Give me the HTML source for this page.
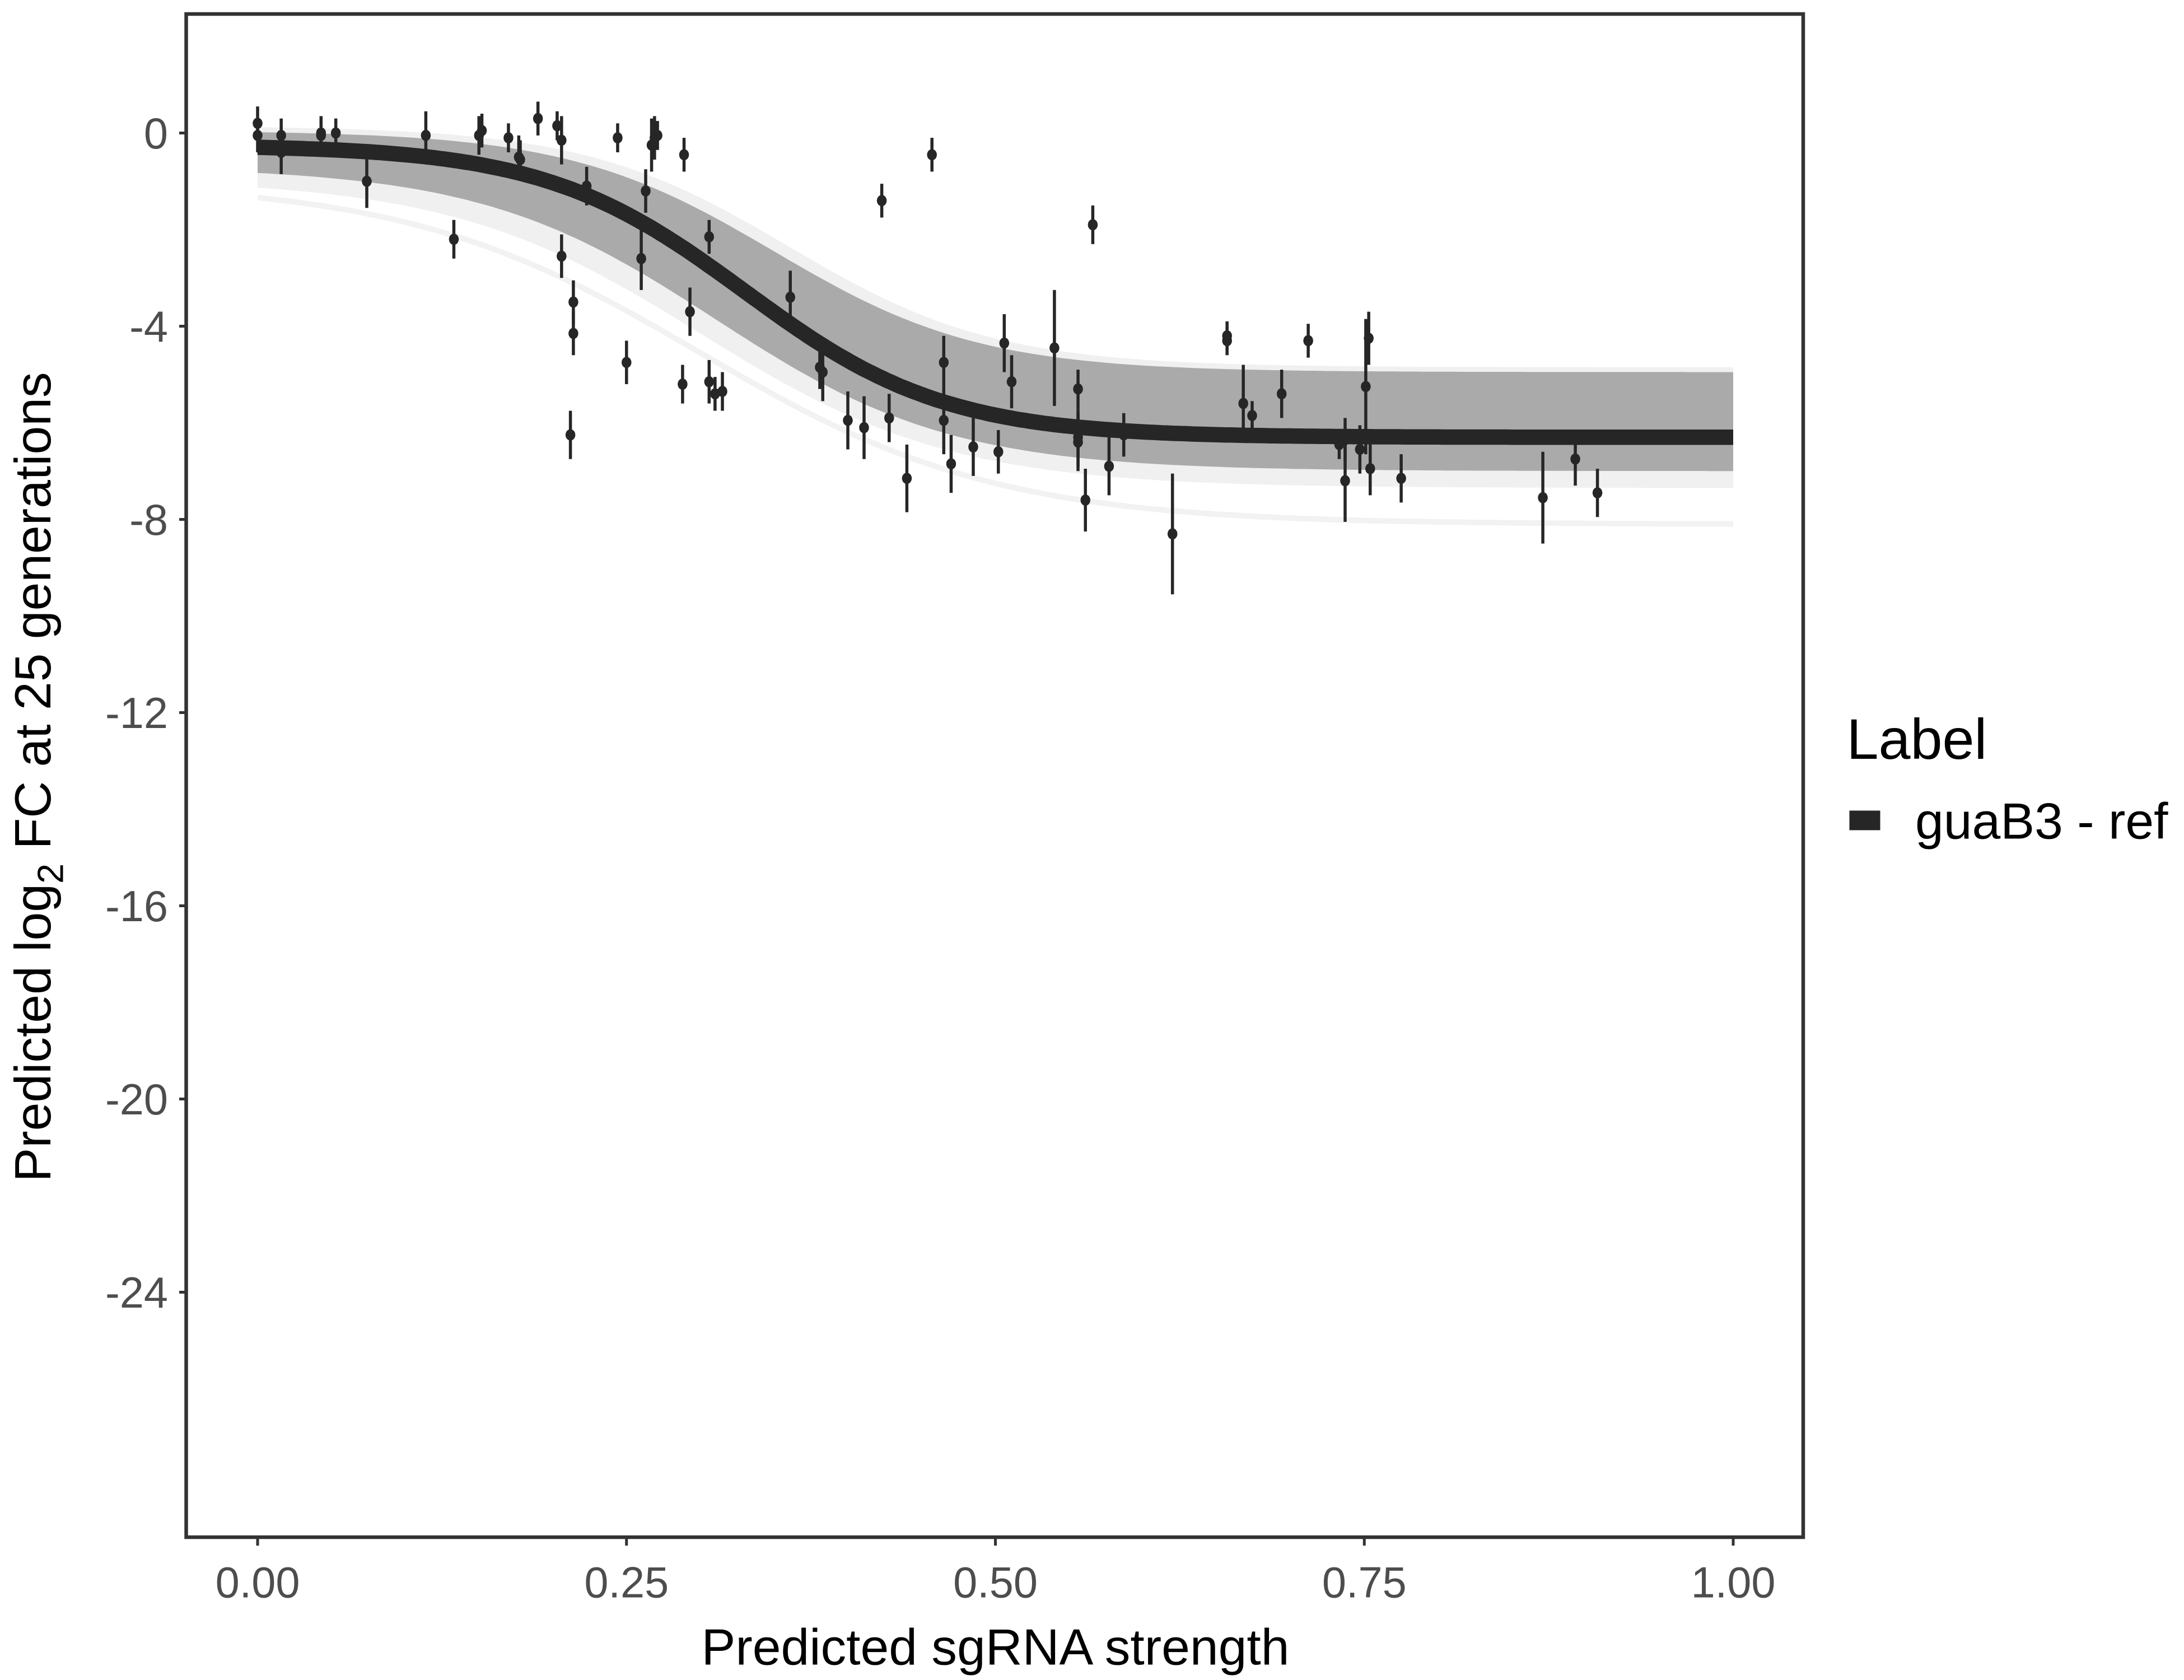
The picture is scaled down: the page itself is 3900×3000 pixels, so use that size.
<!DOCTYPE html>
<html><head><meta charset="utf-8"><style>
html,body{margin:0;padding:0;background:#fff}
svg{display:block}
text{font-family:"Liberation Sans",Arial,sans-serif}
</style></head><body>
<svg id="chart" width="3900" height="3000" viewBox="0 0 1560 1200" xmlns="http://www.w3.org/2000/svg">
<rect x="0" y="0" width="1560" height="1200" fill="#fff"/>
<g id="band"></g>
<g id="fit"></g>
<g id="pts"></g>
<rect x="133" y="10" width="1155" height="1088" fill="none" stroke="#333" stroke-width="2.6"/>
<g id="yaxis"></g>
<g id="xaxis"></g>
<text x="711" y="1189" font-size="36.5" text-anchor="middle" fill="#000">Predicted sgRNA strength</text>
<text transform="translate(36,555) rotate(-90)" font-size="36.5" text-anchor="middle" fill="#000">Predicted  log<tspan font-size="26" dy="9">2</tspan><tspan dy="-9"> FC at 25 generations</tspan></text>
<g>
<text x="1319" y="542" font-size="41" fill="#000">Label</text>
<rect x="1321" y="579" width="22" height="14" fill="#262626"/>
<text x="1368" y="599" font-size="36.5" fill="#000">guaB3 - ref</text>
</g>
</svg>
<script>
const xTicks=[0,0.25,0.5,0.75,1];
const xTickLabels=["0.00","0.25","0.50","0.75","1.00"];
const yTicks=[0,-4,-8,-12,-16,-20,-24];
const yTickLabels=["0","-4","-8","-12","-16","-20","-24"];
const ptX=[0,0,0.016,0.016,0.043,0.043,0.053,0.074,0.114,0.133,0.15,0.152,0.17,0.177,0.178,0.19,0.203,0.206,0.206,0.214,0.214,0.212,0.223,0.244,0.25,0.26,0.263,0.267,0.269,0.271,0.288,0.289,0.293,0.306,0.306,0.31,0.315,0.361,0.381,0.383,0.4,0.411,0.423,0.428,0.44,0.457,0.465,0.465,0.47,0.485,0.502,0.506,0.511,0.54,0.556,0.556,0.556,0.561,0.566,0.577,0.587,0.62,0.657,0.657,0.668,0.674,0.694,0.712,0.733,0.737,0.737,0.747,0.751,0.753,0.754,0.775,0.871,0.893,0.908];
const ptY=[0.2,-0.05,-0.05,-0.4,0,-0.05,0,-1.0,-0.05,-2.2,-0.05,0.05,-0.1,-0.5,-0.55,0.3,0.15,-0.15,-2.55,-3.5,-4.15,-6.25,-1.1,-0.1,-4.75,-2.6,-1.2,-0.25,-0.1,-0.05,-5.2,-0.45,-3.7,-2.15,-5.15,-5.4,-5.35,-3.4,-4.85,-4.95,-5.95,-6.1,-1.4,-5.9,-7.15,-0.45,-4.75,-5.95,-6.85,-6.5,-6.6,-4.35,-5.15,-4.45,-6.3,-6.4,-5.3,-7.6,-1.9,-6.9,-6.25,-8.3,-4.2,-4.3,-5.6,-5.85,-5.4,-4.3,-6.45,-6.35,-7.2,-6.55,-5.25,-4.25,-6.95,-7.15,-7.55,-6.75,-7.45];
const ptErr=[0.35,0.35,0.35,0.45,0.35,0.35,0.3,0.55,0.5,0.4,0.4,0.35,0.3,0.45,0.4,0.35,0.3,0.5,0.45,0.45,0.45,0.5,0.4,0.3,0.45,0.65,0.45,0.55,0.45,0.3,0.4,0.35,0.5,0.35,0.45,0.35,0.4,0.55,0.45,0.6,0.6,0.65,0.35,0.5,0.7,0.35,0.55,0.7,0.6,0.6,0.45,0.6,0.55,1.2,0.6,0.6,0.4,0.65,0.4,0.6,0.45,1.25,0.3,0.3,0.8,0.3,0.5,0.35,0.3,0.45,0.85,0.5,1.4,0.55,0.55,0.5,0.95,0.55,0.5];
const fitTop=-0.25, fitDrop=6.05, fitMid=0.33, fitScale=0.068;
const X0=184,X1=1238,Y0=95,YS=34.5;
function sx(v){return X0+(X1-X0)*v;}
function sy(v){return Y0-YS*v;}
const NS="http://www.w3.org/2000/svg";
function mk(tag,attrs,parent){const e=document.createElementNS(NS,tag);for(const k in attrs)e.setAttribute(k,attrs[k]);parent.appendChild(e);return e;}
function logi(x,top,drop,mid,sc){return top-drop/(1+Math.exp(-(x-mid)/sc));}
const band=document.getElementById('band');
function bandPath(fu,fl){let up=[],lo=[];for(let i=0;i<=200;i++){const x=i/200;up.push(sx(x).toFixed(1)+','+sy(fu(x)).toFixed(1));lo.push(sx(x).toFixed(1)+','+sy(fl(x)).toFixed(1));}return 'M'+up.join('L')+'L'+lo.reverse().join('L')+'Z';}
let p=mk('path',{d:bandPath(x=>logi(x,0.15,5.0,0.36,0.07),x=>logi(x,-0.95,6.4,0.3,0.085)),fill:'#f0f0f0'},band);


p=mk('path',{d:bandPath(x=>logi(x,0.05,5.0,0.35,0.07),x=>logi(x,-0.7,6.3,0.31,0.08)),fill:'#aaaaaa'},band);


p=mk('path',{d:(()=>{let s=[];for(let i=0;i<=200;i++){const x=i/200;s.push(sx(x).toFixed(1)+','+sy(logi(x,-1.0,7.1,0.3,0.1)).toFixed(1));}return 'M'+s.join('L');})(),fill:'none',stroke:'#f2f2f2','stroke-width':4},band);


const fit=document.getElementById('fit');
let s=[];for(let i=0;i<=300;i++){const x=i/300;s.push(sx(x).toFixed(1)+','+sy(logi(x,fitTop,fitDrop,fitMid,fitScale)).toFixed(1));}
p=mk('path',{d:'M'+s.join('L'),fill:'none',stroke:'#262626','stroke-width':11},fit);


const pts=document.getElementById('pts');
for(let i=0;i<ptX.length;i++){
 const g=mk('g',{},pts);
 
 
 mk('line',{x1:sx(ptX[i]),x2:sx(ptX[i]),y1:sy(ptY[i]+ptErr[i]),y2:sy(ptY[i]-ptErr[i]),stroke:'#262626','stroke-width':2.2},g);
 mk('ellipse',{cx:sx(ptX[i]),cy:sy(ptY[i]),rx:3.5,ry:4,fill:'#262626'},g);
}
const ya=document.getElementById('yaxis');
yTicks.forEach((v,i)=>{
 const l=mk('line',{x1:128,x2:133,y1:sy(v),y2:sy(v),stroke:'#333','stroke-width':2},ya);
 
 
 const t=mk('text',{x:120,y:sy(v)+11,'font-size':31,'text-anchor':'end',fill:'#4d4d4d'},ya);
 t.textContent=yTickLabels[i];
 
 
});
const xa=document.getElementById('xaxis');
xTicks.forEach((v,i)=>{
 const l=mk('line',{x1:sx(v),x2:sx(v),y1:1098,y2:1104,stroke:'#333','stroke-width':2},xa);
 
 
 const t=mk('text',{x:sx(v),y:1141,'font-size':31,'text-anchor':'middle',fill:'#4d4d4d'},xa);
 t.textContent=xTickLabels[i];
 
 
});
</script>
</body></html>
